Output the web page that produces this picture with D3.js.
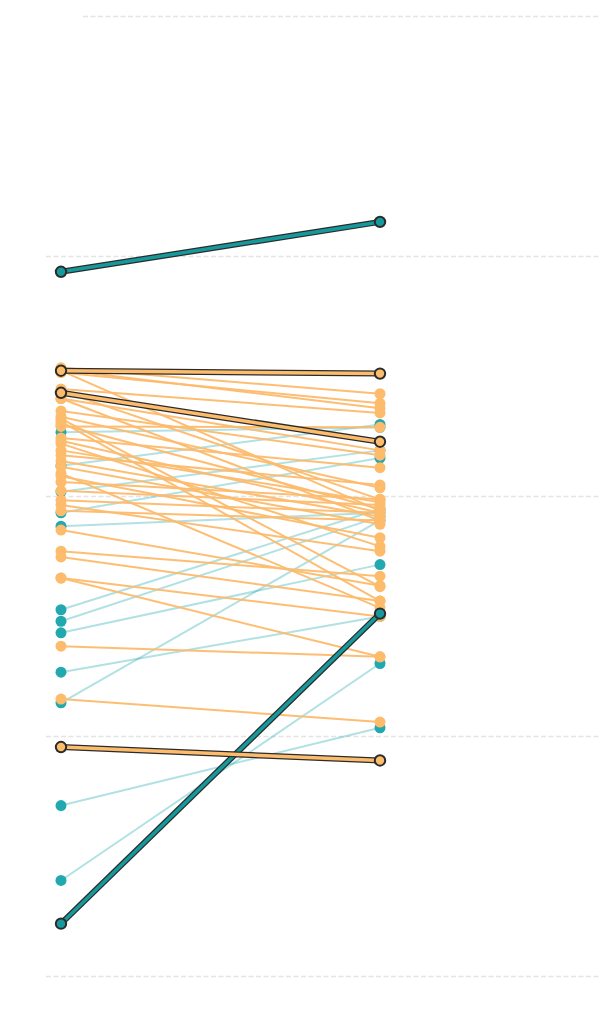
<!DOCTYPE html>
<html>
<head>
<meta charset="utf-8">
<script src="https://cdn.jsdelivr.net/npm/d3@7"></script>
<style>
  html, body { margin: 0; padding: 0; background: #fff; }
  svg { display: block; }
</style>
</head>
<body>
<div id="chart"></div>
<script>
// two periods, one value per period for each line
const periods = ["start", "end"];
const gridTicks = [0, 25, 50, 75, 100];

// background lines, orange group
const orangeStart = [63.3, 63.1, 62.8, 63.0, 61.1, 60.9, 60.1, 60.1, 58.8, 58.2, 58.0, 57.7,
  57.4, 57.2, 56.0, 55.7, 55.4, 54.7, 54.2, 53.6, 53.0, 52.3, 52.0, 51.4, 50.5, 49.5, 49.0,
  48.4, 46.4, 44.2, 43.6, 41.4, 41.4, 34.3, 28.8];
const orangeEnd = [60.6, 59.1, 59.6, 48.4, 58.6, 49.6, 54.7, 47.4, 54.2, 50.8, 40.5, 39.0,
  48.6, 57.1, 52.9, 48.2, 44.7, 49.3, 51.1, 47.8, 47.0, 38.3, 45.6, 49.6, 49.0, 48.2, 44.2,
  47.4, 40.6, 41.6, 39.0, 37.4, 33.2, 33.2, 26.4];

// background lines, teal group
const tealStart = [56.6, 53.1, 50.4, 48.2, 46.8, 38.1, 36.9, 35.7, 31.6, 28.4, 17.7, 9.9];
const tealEnd = [57.1, 57.4, 54.7, 53.9, 48.2, 48.6, 47.8, 42.8, 37.4, 47.4, 25.8, 32.5];

// highlighted lines
const highlightGroup = ["teal", "orange", "orange", "teal", "orange"];
const highlightStart = [73.3, 63.0, 60.7, 5.4, 23.8];
const highlightEnd = [78.5, 62.7, 55.6, 37.7, 22.4];

const colors = { orange: "#fdbb6c", teal: "#22a9b0", tealDark: "#15999c" };

const width = 600, height = 1034;
const svg = d3.select("#chart").append("svg")
  .attr("width", width)
  .attr("height", height);

const x = d3.scalePoint().domain(periods).range([61, 380]);
const y = d3.scaleLinear().domain([0, 100]).range([975.5, 15.5]);

// dashed gridlines
svg.append("g")
  .selectAll("line")
  .data(gridTicks)
  .join("line")
  .attr("x1", d => d === 100 ? 83 : 46)
  .attr("x2", width)
  .attr("y1", d => Math.round(y(d)) + 0.5)
  .attr("y2", d => Math.round(y(d)) + 0.5)
  .attr("stroke", "#e4e4e4")
  .attr("stroke-width", 1.3)
  .attr("stroke-dasharray", "5,2.5");

const toRows = (starts, ends, group) => starts.map((s, i) => ({ group, values: [s, ends[i]] }));
const tealRows = toRows(tealStart, tealEnd, "teal");
const orangeRows = toRows(orangeStart, orangeEnd, "orange");
const highlightRows = highlightStart.map((s, i) => ({ group: highlightGroup[i], values: [s, highlightEnd[i]] }));

const line = d3.line()
  .x((d, i) => x(periods[i]))
  .y(d => y(d));

function drawBackground(rows, color, lineOpacity) {
  const g = svg.append("g");
  g.selectAll("path")
    .data(rows)
    .join("path")
    .attr("d", d => line(d.values))
    .attr("fill", "none")
    .attr("stroke", color)
    .attr("stroke-opacity", lineOpacity)
    .attr("stroke-width", 2);
  return g;
}

function drawDots(rows, color) {
  const g = svg.append("g");
  rows.forEach(r => {
    r.values.forEach((v, i) => {
      g.append("circle")
        .attr("cx", x(periods[i]))
        .attr("cy", y(v))
        .attr("r", 5.5)
        .attr("fill", color);
    });
  });
}

drawBackground(tealRows, colors.teal, 0.35);
drawDots(tealRows, colors.teal);
drawBackground(orangeRows, colors.orange, 0.95);
drawDots(orangeRows, colors.orange);

// highlighted lines: dark outline under a coloured core
const hl = svg.append("g");
highlightRows.forEach(r => {
  const c = r.group === "teal" ? colors.tealDark : colors.orange;
  hl.append("path")
    .attr("d", line(r.values))
    .attr("fill", "none")
    .attr("stroke", "#2b2b2b")
    .attr("stroke-width", 6);
  hl.append("path")
    .attr("d", line(r.values))
    .attr("fill", "none")
    .attr("stroke", c)
    .attr("stroke-width", 3.5);
  r.values.forEach((v, i) => {
    hl.append("circle")
      .attr("cx", x(periods[i]))
      .attr("cy", y(v))
      .attr("r", 5.2)
      .attr("fill", c)
      .attr("stroke", "#2b2b2b")
      .attr("stroke-width", 2);
  });
});
</script>
</body>
</html>
